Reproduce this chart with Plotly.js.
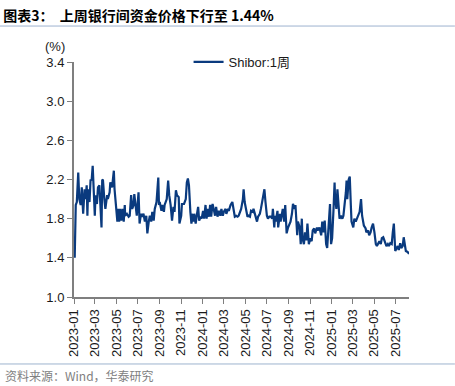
<!DOCTYPE html>
<html>
<head>
<meta charset="utf-8">
<script src="https://cdn.plot.ly/plotly-3.0.1.min.js"></script>
<style>
html,body{margin:0;padding:0;background:#fff;}
#chart{width:455px;height:386px;}
</style>
</head>
<body>
<div id="chart"></div>
<script>
const chartTitle = "图表3：  上周银行间资金价格下行至 1.44%";
const sourceText = "资料来源：Wind，华泰研究";
const seriesName = "Shibor:1周";
const yUnit = "(%)";

const dates = [
"2023-01-03","2023-01-04","2023-01-06","2023-01-09","2023-01-13","2023-01-16","2023-01-20","2023-01-23","2023-01-27","2023-01-31",
"2023-02-03","2023-02-06","2023-02-08","2023-02-10","2023-02-14","2023-02-17","2023-02-20","2023-02-23","2023-02-27",
"2023-03-01","2023-03-03","2023-03-07","2023-03-10","2023-03-14","2023-03-16","2023-03-20","2023-03-22","2023-03-24","2023-03-28","2023-03-31",
"2023-04-05","2023-04-07","2023-04-12","2023-04-14","2023-04-19","2023-04-24","2023-04-26","2023-04-28",
"2023-05-04","2023-05-06","2023-05-09","2023-05-11","2023-05-15","2023-05-18","2023-05-22","2023-05-25","2023-05-26","2023-05-31",
"2023-06-05","2023-06-08","2023-06-12","2023-06-15","2023-06-19","2023-06-21","2023-06-25","2023-06-28",
"2023-07-03","2023-07-06","2023-07-10","2023-07-13","2023-07-17","2023-07-21","2023-07-25","2023-07-28",
"2023-08-01","2023-08-04","2023-08-08","2023-08-11","2023-08-15","2023-08-18","2023-08-23","2023-08-28","2023-08-30",
"2023-09-01","2023-09-06","2023-09-08","2023-09-13","2023-09-15","2023-09-21","2023-09-25","2023-09-28",
"2023-10-02","2023-10-06","2023-10-10","2023-10-13","2023-10-17","2023-10-20","2023-10-25","2023-10-27",
"2023-11-01","2023-11-03","2023-11-09","2023-11-14","2023-11-17","2023-11-20","2023-11-23","2023-11-27","2023-11-30",
"2023-12-04","2023-12-06","2023-12-08","2023-12-12","2023-12-15","2023-12-19","2023-12-22","2023-12-26","2023-12-29",
"2024-01-02","2024-01-05","2024-01-09","2024-01-12","2024-01-15","2024-01-19","2024-01-22","2024-01-25","2024-01-29",
"2024-02-01","2024-02-05","2024-02-08","2024-02-12","2024-02-16","2024-02-20","2024-02-23","2024-02-27",
"2024-03-01","2024-03-06","2024-03-08","2024-03-13","2024-03-15","2024-03-20","2024-03-25","2024-03-28",
"2024-04-01","2024-04-05","2024-04-09","2024-04-12","2024-04-16","2024-04-19","2024-04-24","2024-04-26","2024-04-29",
"2024-05-03","2024-05-07","2024-05-10","2024-05-14","2024-05-17","2024-05-22","2024-05-24","2024-05-29",
"2024-06-03","2024-06-06","2024-06-11","2024-06-14","2024-06-18","2024-06-21","2024-06-24","2024-06-27",
"2024-07-01","2024-07-04","2024-07-08","2024-07-12","2024-07-16","2024-07-18","2024-07-22","2024-07-24","2024-07-26","2024-07-31",
"2024-08-02","2024-08-07","2024-08-09","2024-08-15","2024-08-19","2024-08-22","2024-08-26","2024-08-30",
"2024-09-02","2024-09-06","2024-09-10","2024-09-13","2024-09-18","2024-09-20","2024-09-25","2024-09-27",
"2024-10-02","2024-10-05","2024-10-08","2024-10-10","2024-10-14","2024-10-17","2024-10-21","2024-10-24","2024-10-28",
"2024-11-01","2024-11-05","2024-11-08","2024-11-12","2024-11-15","2024-11-20","2024-11-22","2024-11-27",
"2024-12-02","2024-12-05","2024-12-09","2024-12-12","2024-12-16","2024-12-19","2024-12-23","2024-12-25","2024-12-27","2024-12-30",
"2025-01-02","2025-01-06","2025-01-09","2025-01-10","2025-01-14","2025-01-17","2025-01-20","2025-01-23","2025-01-27","2025-01-31",
"2025-02-03","2025-02-07","2025-02-10","2025-02-12","2025-02-14","2025-02-18","2025-02-21","2025-02-24","2025-02-26",
"2025-03-03","2025-03-06","2025-03-10","2025-03-14","2025-03-17","2025-03-21","2025-03-25","2025-03-28",
"2025-04-02","2025-04-07","2025-04-09","2025-04-14","2025-04-17","2025-04-21","2025-04-24","2025-04-28",
"2025-05-02","2025-05-06","2025-05-09","2025-05-13","2025-05-16","2025-05-20","2025-05-23","2025-05-27",
"2025-06-03","2025-06-05","2025-06-09","2025-06-12","2025-06-16","2025-06-20","2025-06-23","2025-06-26","2025-06-30",
"2025-07-03","2025-07-07","2025-07-10","2025-07-14","2025-07-17","2025-07-21","2025-07-24","2025-07-28","2025-07-30",
"2025-08-04","2025-08-08"
];

const shibor1w = [
1.40,1.60,1.94,1.97,2.27,2.00,1.94,2.12,1.85,2.10,
2.00,2.14,1.83,2.10,1.97,2.20,2.19,2.34,2.00,
1.83,2.04,1.95,2.12,2.14,2.00,1.71,2.19,2.20,2.00,1.90,
2.04,2.00,2.07,2.17,2.12,2.29,2.10,2.00,
1.77,1.90,1.77,1.90,1.78,1.90,1.77,1.94,1.83,1.85,
1.82,1.83,2.04,1.90,1.94,2.05,1.90,1.83,
2.07,1.75,1.85,1.82,1.85,1.77,1.83,1.65,
1.77,1.83,1.77,1.87,1.78,1.90,1.97,2.22,1.94,
1.97,1.88,1.94,1.87,1.94,2.00,2.19,2.04,
1.94,1.78,1.92,1.87,2.09,2.04,2.02,1.75,
1.83,1.95,1.95,2.00,2.17,2.21,2.14,1.87,1.75,
1.85,1.77,1.85,1.75,1.83,1.92,1.78,1.82,1.80,
1.88,1.80,1.94,1.80,1.90,1.82,1.94,1.82,1.95,
1.90,1.83,1.92,1.82,1.88,1.83,1.90,1.83,
1.87,1.90,1.85,1.90,1.88,1.94,1.97,1.88,
1.82,1.83,1.82,1.83,1.87,1.90,2.00,2.10,1.97,
1.87,1.82,1.83,1.82,1.88,1.87,1.90,1.83,
1.77,1.82,1.85,1.90,2.00,2.07,2.10,1.97,
1.83,1.80,1.82,1.82,1.80,1.90,1.71,1.83,1.77,1.88,
1.71,1.85,1.77,1.90,1.77,1.94,1.65,1.71,
1.73,1.77,1.85,1.95,1.90,1.94,1.63,1.77,
1.71,1.54,1.80,1.60,1.54,1.66,1.58,1.75,1.54,
1.60,1.57,1.68,1.70,1.65,1.71,1.68,1.71,
1.63,1.77,1.66,1.78,1.54,1.50,1.73,1.80,1.95,1.54,
1.60,1.90,2.17,2.04,1.90,2.10,1.97,1.80,1.83,1.80,
1.83,1.94,2.07,2.19,2.00,2.20,2.23,1.94,1.77,
1.71,1.80,1.77,1.80,1.83,1.87,2.00,1.83,
1.73,1.70,1.66,1.68,1.63,1.66,1.71,1.75,
1.66,1.54,1.52,1.55,1.57,1.54,1.60,1.61,
1.54,1.52,1.54,1.52,1.55,1.54,1.66,1.75,1.47,
1.50,1.52,1.48,1.55,1.50,1.52,1.61,1.52,1.47,
1.46,1.44
];

const xRange = ["2023-01-01", "2025-08-08"];
const yRange = [1.0, 3.4];
const yTickStep = 0.4;

const lineColor = "#0a3a7e";
const axisColor = "#7f7f7f";
const textColor = "#1a1a1a";
const ruleColor = "#9db3cf";

const trace = {
  x: dates,
  y: shibor1w,
  type: "scatter",
  mode: "lines",
  name: seriesName,
  line: {color: lineColor, width: 2.2}
};

const layout = {
  width: 455,
  height: 386,
  margin: {l: 74, r: 46, t: 62, b: 89},
  paper_bgcolor: "#ffffff",
  plot_bgcolor: "#ffffff",
  font: {family: "Liberation Sans, Arial, 'Noto Sans CJK SC', sans-serif", size: 13, color: textColor},
  title: {
    text: "<b>" + chartTitle + "</b>",
    x: 0.007, xanchor: "left", xref: "container",
    y: 0.957, yanchor: "middle", yref: "container",
    font: {family: "'Noto Sans CJK SC', sans-serif", size: 14, color: "#000000"}
  },
  showlegend: true,
  legend: {
    x: 0.342, xanchor: "left", y: 1.0, yanchor: "middle",
    bgcolor: "rgba(0,0,0,0)",
    font: {family: "Liberation Sans, 'Noto Sans CJK SC', sans-serif", size: 13, color: textColor}
  },
  xaxis: {
    type: "date",
    range: xRange,
    tickformat: "%Y-%m",
    dtick: "M2",
    tick0: "2023-01-01",
    tickangle: -90,
    ticks: "outside",
    ticklen: 5,
    tickwidth: 1,
    tickcolor: axisColor,
    showline: true,
    linecolor: axisColor,
    linewidth: 2,
    showgrid: false,
    zeroline: false,
    tickfont: {family: "Liberation Sans, Arial, sans-serif", size: 13, color: textColor}
  },
  yaxis: {
    range: yRange,
    dtick: yTickStep,
    tick0: 1.0,
    tickformat: ".1f",
    ticks: "outside",
    ticklen: 5,
    tickwidth: 1,
    tickcolor: axisColor,
    showline: true,
    linecolor: axisColor,
    linewidth: 2,
    showgrid: false,
    zeroline: false,
    tickfont: {family: "Liberation Sans, Arial, sans-serif", size: 13, color: textColor}
  },
  annotations: [
    {
      text: yUnit, xref: "paper", yref: "paper",
      x: -0.057, y: 1.064, xanchor: "center", yanchor: "middle",
      showarrow: false,
      font: {family: "Liberation Sans, Arial, sans-serif", size: 13, color: textColor}
    },
    {
      text: sourceText, xref: "paper", yref: "paper",
      x: -0.213, y: -0.336, xanchor: "left", yanchor: "middle",
      showarrow: false,
      font: {family: "'Noto Sans CJK SC', sans-serif", size: 12, color: "#808080"}
    }
  ],
  shapes: [
    {type: "line", xref: "paper", yref: "paper", x0: -0.221, x1: 1.137, y0: 1.153, y1: 1.153,
     line: {color: ruleColor, width: 1}},
    {type: "line", xref: "paper", yref: "paper", x0: -0.221, x1: 1.137, y0: -0.285, y1: -0.285,
     line: {color: ruleColor, width: 1}}
  ]
};

Plotly.newPlot("chart", [trace], layout, {displayModeBar: false, staticPlot: true});
</script>
</body>
</html>
